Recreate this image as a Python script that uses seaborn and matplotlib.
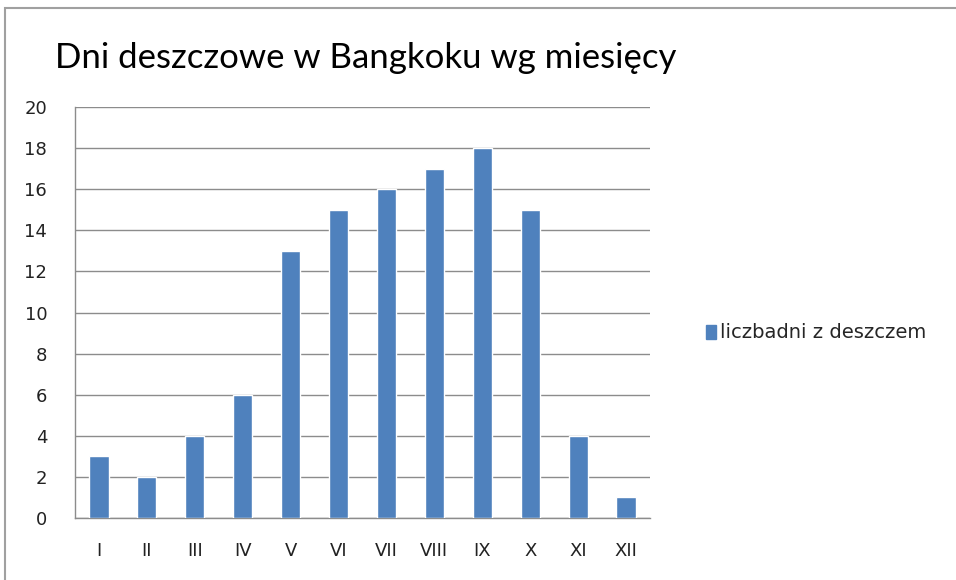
import matplotlib
matplotlib.use("Agg")
import matplotlib.pyplot as plt
import seaborn as sns
import pandas as pd
from matplotlib.patches import Rectangle, Patch

months = ["I", "II", "III", "IV", "V", "VI", "VII", "VIII", "IX", "X", "XI", "XII"]
rain_days = [3, 2, 4, 6, 13, 15, 16, 17, 18, 15, 4, 1]
series_name = "liczbadni z deszczem"
title = "Dni deszczowe w Bangkoku wg miesięcy"

df = pd.DataFrame({"month": months, "days": rain_days})

sns.set_style("white")
plt.rcParams["font.family"] = ["DejaVu Sans"]

fig = plt.figure(figsize=(9.56, 5.8), dpi=100)
ax = fig.add_axes([75 / 956, 62 / 580, 575 / 956, 411 / 580])

blue = "#4F81BD"
sns.barplot(data=df, x="month", y="days", color=blue, width=0.4,
            saturation=1, ax=ax, zorder=3)

ax.set_ylim(0, 20)
ax.set_xlim(-0.5, 11.5)
ax.set_yticks(range(0, 21, 2))
ax.yaxis.grid(True, color="#8C8C8C", linewidth=1, zorder=0)
ax.set_axisbelow(True)
ax.set_xlabel("")
ax.set_ylabel("")

# ticks between categories, labels centered under bars
ax.set_xticks([i + 0.5 for i in range(-1, 12)], minor=False)
ax.set_xticklabels([])
ax.set_xticks(range(12), minor=True)
ax.set_xticklabels(months, minor=True)
ax.tick_params(axis="x", which="major", length=7, width=1, color="#8C8C8C", direction="out")
ax.tick_params(axis="x", which="minor", length=0, pad=17, labelsize=13, labelcolor="#222222")
ax.tick_params(axis="y", length=8, width=1, color="#8C8C8C", direction="out",
               labelsize=13, labelcolor="#222222", pad=12)

for side in ["top", "right"]:
    ax.spines[side].set_visible(False)
for side in ["left", "bottom"]:
    ax.spines[side].set_color("#8C8C8C")
    ax.spines[side].set_linewidth(1)

fig.text(55 / 956, 1 - 58 / 580, title, fontsize=25, va="center", ha="left",
         color="black", family=["Lato", "DejaVu Sans"])

handle = Patch(facecolor=blue, edgecolor=blue)
fig.legend([handle], [series_name], loc="center left", bbox_to_anchor=(688 / 956, 1 - 333 / 580),
           frameon=False, fontsize=14, handlelength=0.55, handleheight=0.75, handletextpad=0.2)

# outer chart frame (left and top edges visible)
fig.patches.append(Rectangle((5 / 956, -0.1), 1.2, 1 - 8 / 580 + 0.1, transform=fig.transFigure,
                             fill=False, edgecolor="#A0A0A0", linewidth=1.5))

fig.savefig("out.png", dpi=100)
